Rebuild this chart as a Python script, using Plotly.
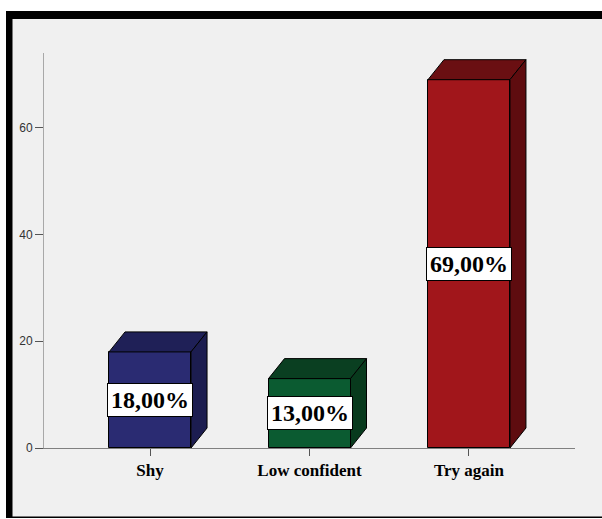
import plotly.graph_objects as go

categories = ["Shy", "Low confident", "Try again"]
values = [18, 13, 69]
front_colors = ["#2a2b72", "#0b5b31", "#a1161b"]
top_colors = ["#1f2057", "#0a3f21", "#6a0f12"]
side_colors = ["#1c1d50", "#083a1d", "#5e0c0f"]
y_ticks = [0, 20, 40, 60]

W, H = 602, 519
PL, PR, PT, PB = 44, 575, 53, 448  # plot area in page pixels
ML, MT = PL, PT
MR = W - PR
MB = H - PB
XR = [-0.665, 2.665]
YR = [0, 74]
plot_w = PR - PL
plot_h = PB - PT
px_x = plot_w / (XR[1] - XR[0])
px_y = plot_h / (YR[1] - YR[0])
bar_w = 82 / px_x
DX = 16 / px_x
DY = 20 / px_y

fig = go.Figure()
xs = list(range(len(categories)))
fig.add_trace(go.Bar(
    x=xs, y=values, width=bar_w,
    marker=dict(color=front_colors, line=dict(color="black", width=1)),
    hoverinfo="skip", showlegend=False,
))
for i, v in enumerate(values):
    l, r = i - bar_w / 2, i + bar_w / 2
    fig.add_trace(go.Scatter(
        x=[l, r, r + DX, l + DX, l], y=[v, v, v + DY, v + DY, v],
        mode="lines", fill="toself", fillcolor=top_colors[i],
        line=dict(color="black", width=1), hoverinfo="skip", showlegend=False,
    ))
    fig.add_trace(go.Scatter(
        x=[r, r + DX, r + DX, r, r], y=[0, DY, v + DY, v, 0],
        mode="lines", fill="toself", fillcolor=side_colors[i],
        line=dict(color="black", width=1), hoverinfo="skip", showlegend=False,
    ))
    fig.add_annotation(
        x=i, y=v / 2, text=f"{v:.2f}".replace(".", ",") + "%",
        showarrow=False, bgcolor="white", bordercolor="black", borderwidth=1,
        borderpad=3,
        font=dict(family="Liberation Serif", size=24, color="black", weight="bold"),
    )

def px2x(p):
    return (p - PL) / plot_w

def px2y(p):
    return (PB - p) / plot_h

fig.add_shape(type="rect", xref="paper", yref="paper", layer="below",
              x0=px2x(6), x1=px2x(640), y0=px2y(518), y1=px2y(11),
              fillcolor="black", line=dict(width=0))
fig.add_shape(type="rect", xref="paper", yref="paper", layer="below",
              x0=px2x(12.5), x1=px2x(640), y0=px2y(516.5), y1=px2y(19),
              fillcolor="#f0f0f0", line=dict(width=0))

fig.update_layout(
    width=W, height=H,
    margin=dict(l=ML, r=MR, t=MT, b=MB, pad=0),
    paper_bgcolor="white", plot_bgcolor="rgba(0,0,0,0)",
    bargap=0, showlegend=False,
    xaxis=dict(range=XR, tickvals=xs, ticktext=categories, showgrid=False,
               zeroline=False, showline=True, linecolor="#808080", linewidth=1,
               ticks="outside", ticklen=7, tickcolor="#555555", tickwidth=1,
               tickfont=dict(family="Liberation Serif", size=17, color="black", weight="bold"),
               fixedrange=True),
    yaxis=dict(range=YR, tickvals=y_ticks, showgrid=False, zeroline=False,
               showline=True, linecolor="#a8a8a8", linewidth=1,
               ticks="outside", ticklen=8, tickcolor="#555555", tickwidth=1,
               tickfont=dict(family="Liberation Sans", size=12, color="#333333"),
               fixedrange=True),
)

fig.write_html(
    "out.html",
    config={"displayModeBar": False},
    post_script="document.body.style.margin='0';document.body.style.overflow='hidden';",
)
